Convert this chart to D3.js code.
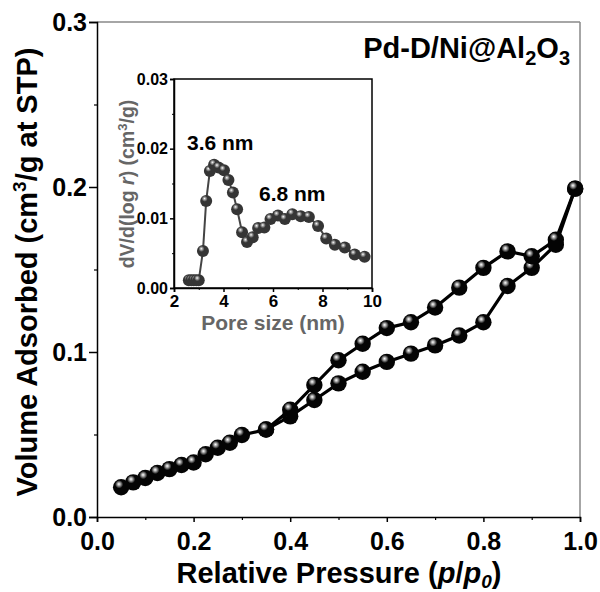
<!DOCTYPE html>
<html><head><meta charset="utf-8">
<script src="https://cdn.jsdelivr.net/npm/d3@7"></script>
<style>
html,body{margin:0;padding:0;background:#fff;}
svg{display:block;font-family:"Liberation Sans",Arial,sans-serif;font-weight:bold;}
</style></head>
<body>
<svg id="c" width="600" height="592"></svg>
<script>
// Main isotherm data
const adsP = [0.05,0.075,0.1,0.125,0.15,0.175,0.2,0.225,0.25,0.275,0.3,0.35,0.4,0.45,0.5,0.55,0.6,0.65,0.7,0.75,0.8,0.85,0.9,0.95,0.99];
const adsV = [0.018,0.021,0.0236,0.0267,0.029,0.0315,0.033,0.038,0.042,0.045,0.0497,0.053,0.061,0.0709,0.081,0.088,0.094,0.099,0.104,0.110,0.118,0.140,0.151,0.165,0.199];
const desP = [0.99,0.95,0.9,0.85,0.8,0.75,0.7,0.65,0.6,0.55,0.5,0.45,0.4,0.35];
const desV = [0.199,0.168,0.158,0.161,0.151,0.139,0.127,0.118,0.1145,0.105,0.095,0.080,0.065,0.053];
const mainXTicks = [0,0.2,0.4,0.6,0.8,1.0];
const mainYTicks = [0,0.1,0.2,0.3];
// Inset pore size distribution
const poreSize = [2.6,2.7,2.8,2.9,3.0,3.17,3.3,3.45,3.62,3.8,4.02,4.2,4.38,4.55,4.75,4.95,5.18,5.4,5.65,5.9,6.2,6.48,6.78,7.12,7.45,7.82,8.15,8.5,8.9,9.3,9.7];
const poreDV = [0.0011,0.0011,0.0011,0.0011,0.0011,0.0053,0.0125,0.0168,0.0177,0.0173,0.0169,0.0155,0.0137,0.0113,0.0080,0.0066,0.0073,0.0086,0.0087,0.0099,0.0104,0.0099,0.0106,0.0103,0.0102,0.0089,0.0071,0.0062,0.0058,0.0048,0.0045];
const insetXTicks = [2,4,6,8,10];
const insetYTicks = [0,0.01,0.02,0.03];
const peakLabels = ["3.6 nm","6.8 nm"];

const svg = d3.select("#c");
const defs = svg.append("defs");
function sphere(id, dark){
  const g = defs.append("radialGradient").attr("id",id).attr("cx","40%").attr("cy","35%").attr("r","62%").attr("fx","36%").attr("fy","30%");
  g.append("stop").attr("offset","0%").attr("stop-color","#ffffff");
  g.append("stop").attr("offset","15%").attr("stop-color","#aaaaaa");
  g.append("stop").attr("offset","40%").attr("stop-color",dark);
  g.append("stop").attr("offset","100%").attr("stop-color",dark);
}
sphere("sphMain","#040404");
sphere("sphInset","#353535");

// Main scales
const x = d3.scaleLinear().domain([0,1]).range([97,580]);
const y = d3.scaleLinear().domain([0,0.3]).range([517,22]);

// Frame top/right gray
svg.append("line").attr("x1",x(0)).attr("x2",x(1)).attr("y1",y(0.3)).attr("y2",y(0.3)).attr("stroke","#888").attr("stroke-width",1.5);
svg.append("line").attr("x1",x(1)).attr("x2",x(1)).attr("y1",y(0.3)).attr("y2",y(0)).attr("stroke","#888").attr("stroke-width",1.5);

// Bottom axis
const xAxis = d3.axisBottom(x).tickValues(mainXTicks).tickFormat(d3.format(".1f")).tickSize(5).tickPadding(10);
const gx = svg.append("g").attr("transform",`translate(0,${y(0)})`).call(xAxis);
gx.select(".domain").attr("stroke","#000").attr("stroke-width",1.5);
gx.selectAll(".tick line").attr("stroke","#000").attr("stroke-width",1.5);
gx.selectAll("text").attr("font-size",25).attr("font-weight","bold").attr("fill","#000").attr("font-family","Liberation Sans, Arial, sans-serif");
const gxm = svg.append("g").attr("transform",`translate(0,${y(0)})`).call(d3.axisBottom(x).tickValues([0.1,0.3,0.5,0.7,0.9]).tickSize(3).tickFormat(""));
gxm.select(".domain").remove();
gxm.selectAll(".tick line").attr("stroke","#000").attr("stroke-width",1.2);

// Left axis
const yAxis = d3.axisLeft(y).tickValues(mainYTicks).tickFormat(d3.format(".1f")).tickSize(8).tickPadding(2);
const gy = svg.append("g").attr("transform",`translate(${x(0)},0)`).call(yAxis);
gy.select(".domain").attr("stroke","#000").attr("stroke-width",1.5);
gy.selectAll(".tick line").attr("stroke","#000").attr("stroke-width",1.5);
gy.selectAll("text").attr("font-size",25).attr("font-weight","bold").attr("fill","#000").attr("font-family","Liberation Sans, Arial, sans-serif");
const gym = svg.append("g").attr("transform",`translate(${x(0)},0)`).call(d3.axisLeft(y).tickValues([0.05,0.15,0.25]).tickSize(3).tickFormat(""));
gym.select(".domain").remove();
gym.selectAll(".tick line").attr("stroke","#000").attr("stroke-width",1.2);

// Axis titles
const xt = svg.append("text").attr("x",339).attr("y",583).attr("text-anchor","middle").attr("font-size",29).attr("fill","#000");
xt.append("tspan").text("Relative Pressure (");
xt.append("tspan").attr("font-style","italic").text("p");
xt.append("tspan").text("/");
xt.append("tspan").attr("font-style","italic").text("p");
xt.append("tspan").attr("font-style","italic").attr("font-size",19).attr("dy",5).text("0");
xt.append("tspan").attr("dy",-5).text(")");

const yt = svg.append("text").attr("transform","translate(37,272) rotate(-90)").attr("text-anchor","middle").attr("font-size",29).attr("fill","#000");
yt.append("tspan").text("Volume Adsorbed (cm");
yt.append("tspan").attr("font-size",19).attr("dy",-11).text("3");
yt.append("tspan").attr("dy",11).text("/g at STP)");

// Title
const tt = svg.append("text").attr("x",570).attr("y",58).attr("text-anchor","end").attr("font-size",29).attr("fill","#000");
tt.append("tspan").text("Pd-D/Ni@Al");
tt.append("tspan").attr("font-size",20).attr("dy",7).text("2");
tt.append("tspan").attr("dy",-7).text("O");
tt.append("tspan").attr("font-size",20).attr("dy",7).text("3");

// Main lines
const line = d3.line().x(d=>x(d[0])).y(d=>y(d[1]));
const ads = adsP.map((p,i)=>[p,adsV[i]]);
const des = desP.map((p,i)=>[p,desV[i]]);
[ads,des].forEach(s=>{
  svg.append("path").datum(s).attr("d",line).attr("fill","none").attr("stroke","#000").attr("stroke-width",3.2);
});
[ads,des].forEach(s=>{
  svg.append("g").selectAll("circle").data(s).join("circle")
    .attr("cx",d=>x(d[0])).attr("cy",d=>y(d[1])).attr("r",8.2).attr("fill","url(#sphMain)");
});

// Inset
const ix = d3.scaleLinear().domain([2,10]).range([174,372]);
const iy = d3.scaleLinear().domain([0,0.03]).range([288,79]);
svg.append("rect").attr("x",ix(2)).attr("y",iy(0.03)).attr("width",ix(10)-ix(2)).attr("height",iy(0)-iy(0.03)).attr("fill","#fff").attr("stroke","#000").attr("stroke-width",1.5);
const igx = svg.append("g").attr("transform",`translate(0,${iy(0)})`).call(d3.axisBottom(ix).tickValues(insetXTicks).tickSize(4).tickPadding(3).tickFormat(d3.format("d")));
igx.select(".domain").attr("stroke","#000").attr("stroke-width",1.5);
igx.selectAll(".tick line").attr("stroke","#000").attr("stroke-width",1.5);
igx.selectAll("text").attr("font-size",17).attr("font-weight","bold").attr("fill","#000").attr("font-family","Liberation Sans, Arial, sans-serif");
const igxm = svg.append("g").attr("transform",`translate(0,${iy(0)})`).call(d3.axisBottom(ix).tickValues([3,5,7,9]).tickSize(2).tickFormat(""));
igxm.select(".domain").remove();
igxm.selectAll(".tick line").attr("stroke","#000");
const igy = svg.append("g").attr("transform",`translate(${ix(2)},0)`).call(d3.axisLeft(iy).tickValues(insetYTicks).tickSize(4).tickPadding(2).tickFormat(d3.format(".2f")));
igy.select(".domain").attr("stroke","#000").attr("stroke-width",1.5);
igy.selectAll(".tick line").attr("stroke","#000").attr("stroke-width",1.5);
igy.selectAll("text").attr("font-size",16).attr("font-weight","bold").attr("fill","#000").attr("font-family","Liberation Sans, Arial, sans-serif");
const igym = svg.append("g").attr("transform",`translate(${ix(2)},0)`).call(d3.axisLeft(iy).tickValues([0.005,0.015,0.025]).tickSize(2).tickFormat(""));
igym.select(".domain").remove();
igym.selectAll(".tick line").attr("stroke","#000");

svg.append("text").attr("x",273).attr("y",330).attr("text-anchor","middle").attr("font-size",21).attr("fill","#666").text("Pore size (nm)");
const iyt = svg.append("text").attr("transform","translate(134,184) rotate(-90)").attr("text-anchor","middle").attr("font-size",19.5).attr("fill","#666");
iyt.append("tspan").text("dV/d(log ");
iyt.append("tspan").attr("font-style","italic").text("r");
iyt.append("tspan").text(") (cm");
iyt.append("tspan").attr("font-size",13).attr("dy",-7).text("3");
iyt.append("tspan").attr("dy",7).text("/g)");

const pore = poreSize.map((s,i)=>[s,poreDV[i]]);
const iline = d3.line().x(d=>ix(d[0])).y(d=>iy(d[1]));
svg.append("path").datum(pore).attr("d",iline).attr("fill","none").attr("stroke","#444").attr("stroke-width",2);
svg.append("g").selectAll("circle").data(pore).join("circle")
  .attr("cx",d=>ix(d[0])).attr("cy",d=>iy(d[1])).attr("r",6).attr("fill","url(#sphInset)");

svg.append("text").attr("x",187).attr("y",150).attr("font-size",21).attr("fill","#000").text(peakLabels[0]);
svg.append("text").attr("x",259).attr("y",201).attr("font-size",21).attr("fill","#000").text(peakLabels[1]);
</script>
</body></html>
